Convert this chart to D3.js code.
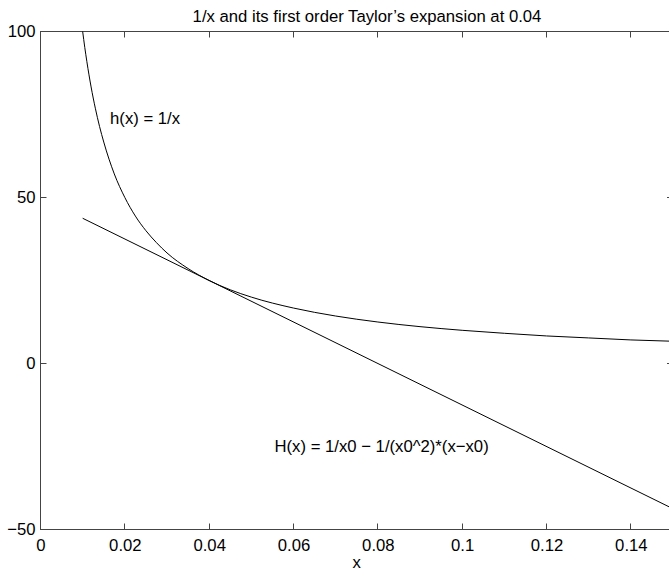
<!DOCTYPE html>
<html>
<head>
<meta charset="utf-8">
<script src="https://cdn.jsdelivr.net/npm/d3@7"></script>
<style>
  body { margin: 0; background: #fff; }
  text { font-family: "Liberation Sans", Arial, Helvetica, sans-serif; fill: #000; }
</style>
</head>
<body>
<svg id="chart" width="669" height="572"></svg>
<script>
// h(x) = 1/x
const hX = [0.01, 0.0105, 0.011, 0.012, 0.013, 0.014, 0.015, 0.0175, 0.02, 0.0225, 0.025, 0.0275, 0.03, 0.035, 0.04, 0.045, 0.05, 0.06, 0.07, 0.08, 0.09, 0.1, 0.11, 0.12, 0.13, 0.14, 0.15];
const hY = [100, 95.2, 90.9, 83.3, 76.9, 71.4, 66.7, 57.1, 50, 44.4, 40, 36.4, 33.3, 28.6, 25, 22.2, 20, 16.7, 14.3, 12.5, 11.1, 10, 9.1, 8.3, 7.7, 7.1, 6.7];

// tangent line at x0 = 0.04
const tX = [0.01, 0.15];
const tY = [43.75, -43.75];

const xTicks = [0, 0.02, 0.04, 0.06, 0.08, 0.1, 0.12, 0.14];
const yTicks = [-50, 0, 50, 100];

const titleText = "1/x and its first order Taylor\u2019s expansion at 0.04";
const xLabel = "x";
const hLabel = { x: 0.0165, y: 72, text: "h(x) = 1/x" };
const HLabel = { x: 0.0555, y: -26.8, text: "H(x) = 1/x0 \u2212 1/(x0^2)*(x\u2212x0)" };

const svg = d3.select("#chart");
const mLeft = 40.5, mRight = 673, mTop = 31.5, mBottom = 529.5;
const fs = "16.7px";

const x = d3.scaleLinear().domain([0, 0.15]).range([mLeft, mRight]);
const y = d3.scaleLinear().domain([-50, 100]).range([mBottom, mTop]);

const fmt = v => (v < 0 ? "\u2212" + Math.abs(v) : String(v));
const axisColor = "#444";
const px = v => Math.round(v - 0.5) + 0.5;

// box
svg.append("rect")
  .attr("x", mLeft).attr("y", mTop)
  .attr("width", mRight - mLeft).attr("height", mBottom - mTop)
  .attr("fill", "none").attr("stroke", axisColor).attr("stroke-width", 1);

// tick labels via d3 axes (tick lines drawn separately below)
const xAxis = svg.append("g").attr("transform", `translate(0,${mBottom})`)
  .call(d3.axisBottom(x).tickValues(xTicks).tickSize(0).tickPadding(9).tickFormat(d => String(d)));
const yAxis = svg.append("g").attr("transform", `translate(${mLeft},0)`)
  .call(d3.axisLeft(y).tickValues(yTicks).tickSize(0).tickPadding(5).tickFormat(fmt));

[xAxis, yAxis].forEach(g => {
  g.select(".domain").remove();
  g.selectAll(".tick line").remove();
  g.selectAll(".tick text").style("font-size", fs).attr("fill", "#000");
});
xAxis.selectAll(".tick text").attr("dy", "0.72em");

// inward tick marks on all four sides
const ticks = svg.append("g").attr("stroke", axisColor).attr("stroke-width", 1);
xTicks.forEach(t => {
  const xp = px(x(t));
  ticks.append("line").attr("x1", xp).attr("x2", xp).attr("y1", mBottom).attr("y2", mBottom - 6);
  ticks.append("line").attr("x1", xp).attr("x2", xp).attr("y1", mTop).attr("y2", mTop + 6);
});
yTicks.forEach(t => {
  const yp = px(y(t));
  ticks.append("line").attr("x1", mLeft).attr("x2", mLeft + 6).attr("y1", yp).attr("y2", yp);
  ticks.append("line").attr("x1", mRight).attr("x2", mRight - 6).attr("y1", yp).attr("y2", yp);
});

// curves
const line = d3.line().x(d => x(d[0])).y(d => y(d[1]));

svg.append("path")
  .datum(hX.map((v, i) => [v, hY[i]]))
  .attr("d", line.curve(d3.curveMonotoneX))
  .attr("fill", "none").attr("stroke", "#000").attr("stroke-width", 1);

svg.append("path")
  .datum(tX.map((v, i) => [v, tY[i]]))
  .attr("d", d3.line().x(d => x(d[0])).y(d => y(d[1])))
  .attr("fill", "none").attr("stroke", "#000").attr("stroke-width", 1);

// texts
svg.append("text")
  .attr("x", 367).attr("y", 21.5)
  .attr("text-anchor", "middle")
  .style("font-size", fs)
  .text(titleText);

svg.append("text")
  .attr("x", x(0.075)).attr("y", 568)
  .attr("text-anchor", "middle")
  .style("font-size", fs)
  .text(xLabel);

[hLabel, HLabel].forEach(l => {
  svg.append("text")
    .attr("x", x(l.x)).attr("y", y(l.y))
    .style("font-size", fs)
    .text(l.text);
});
</script>
</body>
</html>
